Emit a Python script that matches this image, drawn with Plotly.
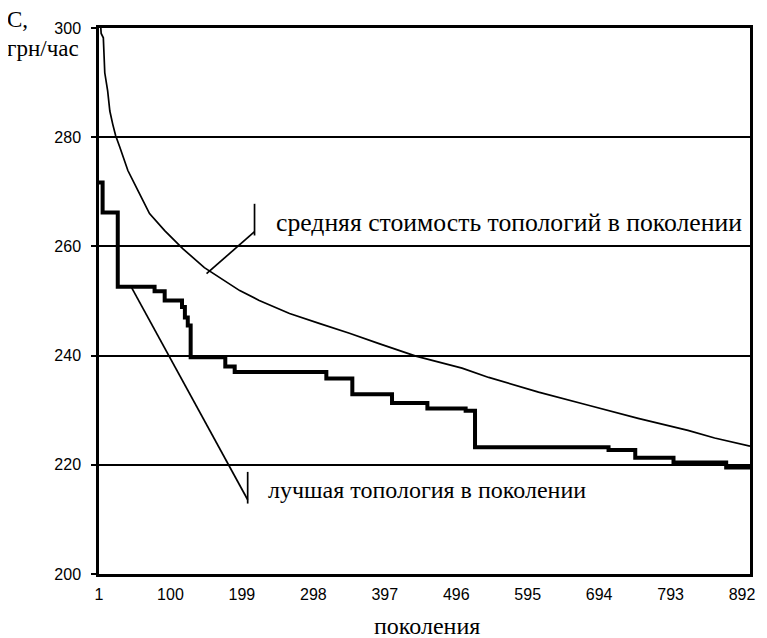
import plotly.graph_objects as go

# Data
mean_gen = [1, 4, 7, 9, 13, 16, 20, 24, 30, 41, 55, 71, 92, 117, 147, 196, 223, 265,
            306, 348, 389, 440, 472, 504, 541, 610, 679, 748, 817, 854, 903]
mean_val = [305, 299, 298.2, 291.8, 288.5, 284.8, 282.4, 280.3, 278.1, 273.9, 270.2,
            266.0, 262.9, 259.6, 256.1, 251.9, 250.1, 247.7, 245.9, 244.1, 242.2, 239.9,
            238.8, 237.7, 236.0, 233.3, 230.9, 228.5, 226.3, 224.9, 223.4]

best_gen = [1, 6, 27, 78, 92, 116, 120, 124, 128, 176, 189, 316, 352, 407, 456, 509,
            522, 707, 744, 797, 870, 903]
best_val = [271.7, 266.2, 252.6, 251.8, 250.1, 248.9, 247.0, 245.5, 239.7, 238.0, 237.0,
            235.8, 232.9, 231.3, 230.3, 229.9, 223.2, 222.7, 221.3, 220.4, 219.5, 219.5]

x_ticks = [1, 100, 199, 298, 397, 496, 595, 694, 793, 892]
y_ticks = [200, 220, 240, 260, 280, 300]

label_mean = "средняя стоимость топологий в поколении"
label_best = "лучшая топология в поколении"

# page body has an 8px margin, so the figure is sized/offset to compensate
W, H = 759, 630
ML, MR, MT, MB = 91, 15, 19, 64
PW, PH = W - ML - MR, H - MT - MB

fig = go.Figure()
fig.add_trace(go.Scatter(x=mean_gen, y=mean_val, mode="lines",
                         line=dict(color="black", width=1.7), showlegend=False))
fig.add_trace(go.Scatter(x=best_gen, y=best_val, mode="lines", line_shape="hv",
                         line=dict(color="black", width=4), showlegend=False))

line_style = dict(color="black", width=1.7)
# callout for mean curve
fig.add_shape(type="line", xref="x", yref="y", x0=216.5, x1=216.5, y0=267.8, y1=262.0, line=line_style)
fig.add_shape(type="line", xref="x", yref="y", x0=216.5, x1=150, y0=262.7, y1=255.0, line=line_style)
# callout for best curve
fig.add_shape(type="line", xref="x", yref="y", x0=207, x1=207, y0=218.7, y1=212.9, line=line_style)
fig.add_shape(type="line", xref="x", yref="y", x0=46, x1=207, y0=252.5, y1=213.6, line=line_style)

serif = "Liberation Serif, Times New Roman, serif"
fig.add_annotation(x=243, y=264.4, xref="x", yref="y", text=label_mean, showarrow=False,
                   xanchor="left", yanchor="middle",
                   font=dict(family=serif, size=25.7, color="black"))
fig.add_annotation(x=232, y=215.4, xref="x", yref="y", text=label_best, showarrow=False,
                   xanchor="left", yanchor="middle",
                   font=dict(family=serif, size=24, color="black"))

# axis titles
fig.add_annotation(x=-94 / PW, y=1.0 + 9 / PH, xref="paper", yref="paper",
                   text="С,", showarrow=False, xanchor="left", yanchor="middle",
                   font=dict(family=serif, size=23, color="black"))
fig.add_annotation(x=-94 / PW, y=1.0 - 21 / PH, xref="paper", yref="paper",
                   text="грн/час", showarrow=False, xanchor="left", yanchor="middle",
                   font=dict(family=serif, size=23, color="black"))
fig.add_annotation(x=(428 - 99) / PW, y=-52 / PH, xref="paper", yref="paper",
                   text="поколения", showarrow=False, xanchor="center", yanchor="middle",
                   font=dict(family=serif, size=24, color="black"))

fig.update_layout(
    width=W, height=H,
    margin=dict(l=ML, r=MR, t=MT, b=MB),
    paper_bgcolor="white", plot_bgcolor="white",
    font=dict(family="Liberation Sans", size=16, color="black"),
)
fig.update_xaxes(range=[1, 903], tickvals=x_ticks, ticktext=[str(v) for v in x_ticks],
                 showgrid=False, zeroline=False, showline=True, mirror=True,
                 linecolor="black", linewidth=2.5, ticks="", ticklabelstandoff=4)
fig.update_yaxes(range=[200, 300], tickvals=y_ticks, showgrid=True, gridcolor="black",
                 gridwidth=1.7, zeroline=False, showline=True, mirror=True,
                 linecolor="black", linewidth=2.5, ticks="outside", ticklen=5,
                 tickwidth=2, tickcolor="black", ticklabelstandoff=7)

fig.write_html("out.html")
